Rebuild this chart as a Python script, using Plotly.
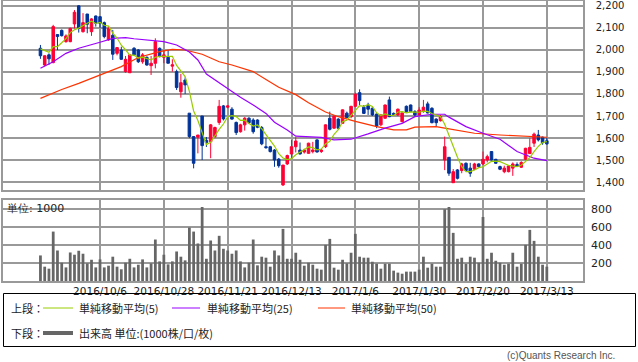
import plotly.graph_objects as go
import pandas as pd

W, H = 638, 362

# ---------------- data ----------------
day_index = list(range(120))
opens = [2007,1931,1977,1942,2069,2088,2037,2037,2117,2199,
         2082,2162,2082,2153,2150,2123,2045,2066,1984,1999,
         1901,1896,2007,1999,1946,1966,1928,1939,2007,1966,
         1966,1926,1901,1810,1863,1713,1607,1604,1700,1590,
         1584,1607,1671,1746,1740,1731,1671,1629,1660,1690,
         1682,1682,1648,1561,1561,1546,1505,1388,1483,1528,
         1561,1546,1537,1531,1539,1592,1539,1561,1690,1645,
         1686,1667,1713,1697,1744,1806,1740,1750,1735,1709,
         1660,1690,1773,1712,1705,1674,1744,1750,1720,1705,
         1720,1755,1735,1686,1679,1501,1513,1398,1456,1453,
         1486,1464,1459,1483,1483,1501,1539,1504,1471,1448,
         1448,1464,1480,1468,1504,1530,1577,1614,1604,1588]
highs = [2022,1975,1984,2113,2070,2092,2070,2100,2180,2202,
         2166,2162,2143,2155,2152,2128,2105,2090,2012,2014,
         1972,1977,2012,2003,1985,1970,1972,2052,2010,1999,
         1999,1957,1910,1891,1875,1713,1607,1614,1700,1605,
         1664,1652,1773,1750,1748,1740,1675,1665,1695,1695,
         1690,1685,1655,1600,1565,1550,1510,1478,1525,1591,
         1604,1580,1552,1579,1583,1595,1552,1662,1720,1702,
         1690,1730,1720,1746,1806,1821,1750,1760,1740,1712,
         1707,1752,1788,1716,1734,1716,1748,1752,1727,1740,
         1773,1765,1740,1690,1705,1607,1513,1460,1460,1488,
         1490,1488,1488,1486,1539,1525,1541,1506,1475,1475,
         1478,1490,1490,1495,1556,1599,1625,1637,1607,1602]
lows = [1959,1925,1931,1939,1999,2060,2032,2034,2097,2078,
        2078,2075,2063,2105,2099,2052,2041,1954,1975,1954,
        1896,1896,1975,1940,1937,1928,1886,1916,1966,1939,
        1939,1901,1818,1783,1800,1600,1463,1531,1501,1560,
        1509,1600,1660,1680,1735,1684,1614,1625,1634,1665,
        1620,1645,1568,1552,1535,1470,1466,1383,1478,1509,
        1535,1526,1530,1530,1531,1535,1533,1555,1635,1642,
        1640,1664,1690,1690,1740,1750,1710,1705,1700,1645,
        1655,1688,1695,1705,1700,1672,1716,1718,1697,1700,
        1715,1712,1667,1652,1675,1455,1429,1398,1413,1441,
        1450,1425,1455,1468,1478,1490,1498,1484,1455,1441,
        1445,1429,1470,1465,1500,1530,1560,1585,1570,1570]
closes = [1973,1973,1959,2105,2060,2064,2063,2097,2170,2097,
          2123,2116,2140,2120,2120,2060,2097,1980,2010,1957,
          1957,1977,1977,1946,1977,1931,1939,2037,1969,1977,
          1939,1932,1829,1851,1841,1607,1486,1614,1566,1580,
          1660,1648,1744,1687,1746,1686,1625,1660,1690,1670,
          1629,1649,1574,1557,1539,1501,1475,1478,1521,1561,
          1587,1528,1546,1577,1546,1537,1546,1660,1640,1700,
          1645,1728,1693,1744,1799,1770,1712,1731,1705,1655,
          1705,1750,1697,1708,1731,1714,1720,1720,1705,1727,
          1740,1714,1670,1670,1697,1561,1441,1448,1418,1483,
          1453,1441,1483,1471,1504,1516,1501,1486,1459,1464,
          1474,1483,1474,1490,1554,1558,1618,1592,1579,1574]
volumes = [284,159,137,549,339,203,151,317,292,336,
           303,196,236,151,240,151,170,270,159,130,
           203,247,151,181,240,151,196,461,218,292,
           185,218,328,270,229,594,549,417,822,247,
           450,339,502,358,339,303,339,218,151,203,
           461,174,270,259,159,339,284,579,247,247,
           314,236,170,203,181,137,126,402,468,148,
           126,236,196,314,524,270,259,259,214,192,
           137,192,192,115,93,81,104,104,104,126,
           270,148,192,159,159,797,822,535,247,259,
           192,270,259,203,711,247,314,225,203,181,
           192,314,159,192,402,568,446,270,181,159]

# moving averages (first MA5 points precede the close data)
ma5_head = [2004, 1996, 1989, 2014]
ma25_x = [0,3,6,9,14,17,20,22,29,32,35,37,39,42,45,47,50,53,55,58,60,62,66,69,73,77,81,85,88,92,95,96,100,104,108,112,116,119]
ma25 = [1916,1946,1984,2007,2034,2052,2055,2050,2037,2022,1990,1954,1890,1850,1812,1785,1750,1712,1672,1637,1609,1608,1603,1592,1595,1619,1645,1667,1697,1708,1708,1695,1652,1622,1595,1539,1509,1498]
ma50_x = [0,5,9,14,19,23,28,31,34,38,42,45,50,53,56,60,63,67,70,74,79,83,86,88,93,95,98,102,108,116,119]
ma50 = [1780,1820,1848,1886,1924,1965,1992,2002,1999,1980,1946,1931,1901,1865,1830,1797,1760,1718,1697,1676,1652,1637,1637,1650,1652,1645,1634,1622,1614,1607,1604]

tick_idx = [14, 29, 44, 59, 74, 89, 104, 119]
tick_labels = ["2016/10/6", "2016/10/28", "2016/11/21", "2016/12/13",
               "2017/1/6", "2017/1/30", "2017/2/20", "2017/3/13"]
price_ticks = [1400, 1500, 1600, 1700, 1800, 1900, 2000, 2100, 2200]
vol_ticks = [200, 400, 600, 800]

ma5 = pd.Series(closes, dtype=float).rolling(5).mean().tolist()
ma5[:4] = ma5_head

# ---------------- style ----------------
RED = "#ff0033"
BLUE = "#003399"
C_MA5 = "#99cc00"
C_MA25 = "#9900ff"
C_MA50 = "#ff3300"
GRID = "#999999"
VOL = "#666666"
TXT = "#222222"


def px(x):
    return x / W


def py(y):
    return 1 - y / H


X_RANGE = [-8.8, 127.5]

fig = go.Figure()
fig.add_trace(go.Candlestick(
    x=day_index, open=opens, high=highs, low=lows, close=closes,
    increasing=dict(line=dict(color=RED, width=1), fillcolor=RED),
    decreasing=dict(line=dict(color=BLUE, width=1), fillcolor=BLUE),
    whiskerwidth=0, xaxis="x", yaxis="y", showlegend=False))
fig.add_trace(go.Scatter(x=ma50_x, y=ma50, mode="lines",
                         line=dict(color=C_MA50, width=1.2), showlegend=False))
fig.add_trace(go.Scatter(x=ma25_x, y=ma25, mode="lines",
                         line=dict(color=C_MA25, width=1.2), showlegend=False))
fig.add_trace(go.Scatter(x=day_index, y=ma5, mode="lines",
                         line=dict(color=C_MA5, width=1.2), showlegend=False))
fig.add_trace(go.Bar(x=day_index, y=volumes, marker=dict(color=VOL, line=dict(width=0)),
                     width=0.65, xaxis="x2", yaxis="y2", showlegend=False))

axis_common = dict(showgrid=True, gridcolor=GRID, gridwidth=1.5, showline=True,
                   linecolor=GRID, linewidth=1.5, mirror=True, zeroline=False)

fig.update_layout(
    width=W, height=H, margin=dict(l=0, r=0, t=0, b=0),
    paper_bgcolor="white", plot_bgcolor="white",
    boxgap=0.15,
    xaxis=dict(domain=[px(3), px(583)], range=X_RANGE, tickvals=tick_idx,
               showticklabels=False, rangeslider=dict(visible=False),
               anchor="y", **axis_common),
    yaxis=dict(domain=[py(190), py(1)], range=[1365, 2221], side="right",
               tickvals=price_ticks, tickformat=",", ticks="",
               ticklabelstandoff=9, anchor="x",
               tickfont=dict(family="DejaVu Sans", size=10, color=TXT),
               **axis_common),
    xaxis2=dict(domain=[px(3), px(583)], range=X_RANGE, tickvals=tick_idx,
                ticktext=tick_labels, ticks="", anchor="y2",
                tickfont=dict(family="DejaVu Sans", size=10.5, color=TXT),
                **axis_common),
    yaxis2=dict(domain=[py(281), py(200)], range=[0, 900], side="right",
                tickvals=vol_ticks, ticks="", ticklabelstandoff=4, anchor="x2",
                tickfont=dict(family="DejaVu Sans", size=11, color=TXT),
                **axis_common),
    font=dict(family="Noto Sans CJK JP", size=11, color=TXT),
)

shapes = []
annotations = []
# unit label in volume panel
annotations.append(dict(x=px(5), y=py(208), xref="paper", yref="paper", text="単位: 1000",
                        showarrow=False, xanchor="left", yanchor="middle",
                        font=dict(family="DejaVu Sans", size=11, color=TXT)))
# legend box
shapes.append(dict(type="rect", xref="paper", yref="paper", x0=px(3.5), x1=px(635.5),
                   y0=py(346.5), y1=py(293.5), line=dict(color="black", width=1)))
row1, row2 = 308, 333
legend_lines = [(43, 73, row1, C_MA5, 1), (172, 200, row1, C_MA25, 1),
                (318, 345, row1, C_MA50, 1), (43, 73, row2, VOL, 4)]
for x0, x1, yy, c, w in legend_lines:
    shapes.append(dict(type="line", xref="paper", yref="paper", x0=px(x0), x1=px(x1),
                       y0=py(yy), y1=py(yy), line=dict(color=c, width=w)))
legend_texts = [(9, row1, "上段："), (77, row1, "単純移動平均(5)"),
                (205, row1, "単純移動平均(25)"), (349, row1, "単純移動平均(50)"),
                (9, row2, "下段："), (77, row2, "出来高 単位:(1000株/口/枚)")]
for xx, yy, t in legend_texts:
    annotations.append(dict(x=px(xx), y=py(yy), xref="paper", yref="paper", text=t,
                            showarrow=False, xanchor="left", yanchor="middle",
                            font=dict(family="Noto Sans CJK JP", size=11, color=TXT)))
annotations.append(dict(x=px(617), y=py(355), xref="paper", yref="paper",
                        text="(c)Quants Research Inc.", showarrow=False,
                        xanchor="right", yanchor="middle",
                        font=dict(family="Liberation Sans", size=10, color="#555")))
fig.update_layout(shapes=shapes, annotations=annotations)

fig.write_html("out.html", config={"displayModeBar": False},
               post_script="document.body.style.margin='0';document.body.style.overflow='hidden';")
